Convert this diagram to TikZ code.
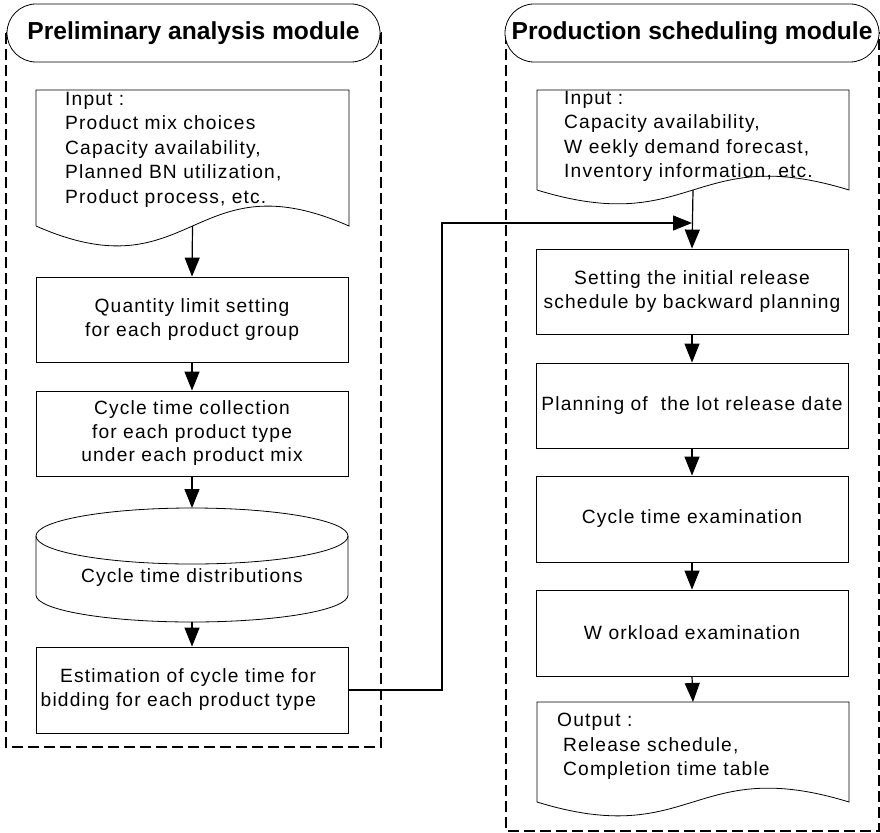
\documentclass[tikz,border=0pt]{standalone}
\usepackage{fontspec}
\setmainfont{Liberation Sans}[LetterSpace=6]
\newfontfamily\hdfont{Liberation Sans}
\usetikzlibrary{arrows.meta,calc}
\begin{document}
\begin{tikzpicture}[x=1pt,y=-1pt,
  every node/.style={font=\fontsize{19.2}{23.5}\selectfont},
  box/.style={draw, line width=0.8pt, minimum width=312pt, minimum height=85pt, inner sep=0pt, align=center},
  frame/.style={draw, line width=1.8pt, dash pattern=on 11pt off 5pt},
  hdr/.style={draw, fill=white, line width=0.8pt, rounded corners=29pt, minimum width=373pt, minimum height=58pt, inner sep=0pt, font=\hdfont\bfseries\fontsize{24.6}{28}\selectfont},
  arr/.style={line width=1.2pt, -{Triangle[length=19pt,width=15pt]}},
  shp/.style={line width=0.8pt},
  ghost/.style={inner sep=0pt, outer sep=0pt},
  doctext/.style={inner sep=0pt, anchor=north west, align=left, font=\fontsize{19.2}{24.5}\selectfont},
]
\useasboundingbox (0,0) rectangle (880,832);

% module frames
\draw[frame] (6,33) rectangle (381,747);
\draw[frame] (506,33) rectangle (879,831);
\node[hdr] (h1) at (193.5,33) {Preliminary analysis module};
\node[hdr, minimum width=374pt] (h2) at (692,33) {Production scheduling module};

% ---------- left column ----------
\node[ghost, minimum width=313pt, minimum height=136pt] (in1) at (192.5,158) {};
\draw[shp] (in1.south west) -- (in1.north west) -- (in1.north east) -- (in1.south east)
  .. controls ($(in1.south)+(0,-69)$) and ($(in1.south)+(0,69)$) .. (in1.south west);
\node[doctext] (in1t) at (65,92) {Input :\\Product mix choices\\Capacity availability,\\Planned BN utilization,\\Product process, etc.};

\node[box] (q) at (192,319.5) {Quantity limit setting\\for each product group};
\node[box] (c) at (192,433.5) {Cycle time collection\\for each product type\\under each product mix};

\node[ghost, minimum width=312pt, minimum height=114pt] (cyl) at (192,565) {};
\draw[shp] (192,536) ellipse [x radius=156, y radius=28];
\draw[shp] (36,536) -- (36,595) arc[start angle=180, end angle=0, x radius=156, y radius=27] -- (348,536);
\node (cylt) at (192,578) {Cycle time distributions};

\node[box, minimum height=86pt] (est) at (192,690) {};
\node[ghost, anchor=east, align=right, font=\fontsize{19.2}{24}\selectfont] (estt) at (316,690) {Estimation of cycle time for\\bidding for each product type};

% ---------- right column ----------
\node[ghost, minimum width=312pt, minimum height=100pt] (in2) at (693,140) {};
\draw[shp] (in2.south west) -- (in2.north west) -- (in2.north east) -- (in2.south east)
  .. controls ($(in2.south)+(0,-48)$) and ($(in2.south)+(0,48)$) .. (in2.south west);
\node[doctext] (in2t) at (564,91) {Input :\\Capacity availability,\\W eekly demand forecast,\\Inventory information, etc.};

\node[box] (set) at (692,291.5) {Setting the initial release\\schedule by backward planning};
\node[box] (plan) at (692,405.5) {Planning of~~the lot release date};
\node[box, minimum height=86pt] (cte) at (692,519) {Cycle time examination};
\node[box, minimum height=86pt] (work) at (692,633) {W orkload examination};

\node[ghost, minimum width=312pt, minimum height=100pt] (out) at (693,752) {};
\draw[shp] (out.south west) -- (out.north west) -- (out.north east) -- (out.south east)
  .. controls ($(out.south)+(0,-48)$) and ($(out.south)+(0,48)$) .. (out.south west);
\node[doctext] (outt) at (557,713) {Output :\\\hspace*{6pt}Release schedule,\\\hspace*{6pt}Completion time table};

% ---------- connectors ----------
\draw[arr] (in1.south) -- (q.north);
\draw[arr] (q.south) -- (c.north);
\draw[arr] (c.south) -- (cyl.north);
\draw[arr] (cyl.south) -- (est.north);

\coordinate (m) at (692,223);
\coordinate (turn) at (442,690);
\draw[arr] (in2.south) -- (set.north);
\draw[arr] (est.east) -- (turn) |- (m);
\draw[arr] (set.south) -- (plan.north);
\draw[arr] (plan.south) -- (cte.north);
\draw[arr] (cte.south) -- (work.north);
\draw[arr] (work.south) -- (out.north);
\end{tikzpicture}
\end{document}
